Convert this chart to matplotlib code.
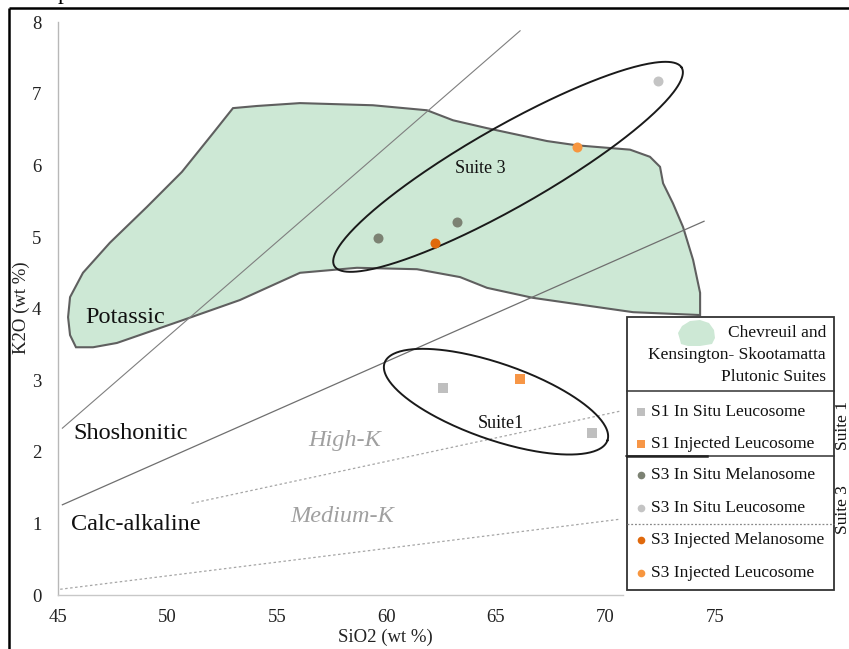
import numpy as np
import matplotlib
matplotlib.use("Agg")
import matplotlib.pyplot as plt
from matplotlib.patches import Rectangle, Polygon

plt.rcParams['font.family'] = ['Liberation Serif', 'DejaVu Serif']

# ---------------- data ----------------
x_ticks = [45, 50, 55, 60, 65, 70, 75]
y_ticks = [0, 1, 2, 3, 4, 5, 6, 7, 8]

# field of Chevreuil and Kensington-Skootamatta plutonic suites
field_sio2 = [45.82, 46.60, 47.69, 50.71, 53.31, 56.05, 58.65, 61.39, 63.36, 64.59,
              66.69, 68.97, 71.26, 74.32, 74.32, 74.00, 73.54, 73.08, 72.63, 72.49,
              72.03, 71.12, 68.70, 67.33, 64.59, 63.04, 61.85, 59.38, 56.05, 54.09,
              52.99, 52.08, 50.66, 49.06, 47.37, 46.14, 45.55, 45.46, 45.55]
field_k2o = [3.46, 3.46, 3.52, 3.84, 4.12, 4.50, 4.57, 4.55, 4.44, 4.29,
             4.15, 4.05, 3.95, 3.91, 4.22, 4.68, 5.14, 5.47, 5.75, 5.98,
             6.12, 6.22, 6.28, 6.34, 6.52, 6.63, 6.77, 6.84, 6.87, 6.83,
             6.80, 6.45, 5.91, 5.42, 4.92, 4.50, 4.16, 3.88, 3.63]

# series
s1_insitu_leuco_x = [62.6, 69.4]
s1_insitu_leuco_y = [2.89, 2.26]
s1_inj_leuco_x = [66.1]
s1_inj_leuco_y = [3.02]
s3_insitu_mela_x = [59.6, 63.2]
s3_insitu_mela_y = [4.99, 5.21]
s3_insitu_leuco_x = [72.4]
s3_insitu_leuco_y = [7.18]
s3_inj_mela_x = [62.2]
s3_inj_mela_y = [4.92]
s3_inj_leuco_x = [68.7]
s3_inj_leuco_y = [6.26]

# boundary lines
shosh_potassic_x = [45.2, 66.1]
shosh_potassic_y = [2.33, 7.88]
calc_shosh_x = [45.2, 74.5]
calc_shosh_y = [1.26, 5.22]
highk_x = [51.1, 70.7]
highk_y = [1.28, 2.57]
mediumk_x = [45.1, 70.7]
mediumk_y = [0.08, 1.06]

# ---------------- figure ----------------
W, H = 849, 649
fig = plt.figure(figsize=(W / 100, H / 100), dpi=100)
PX_X = 21.9   # px per wt% SiO2
PX_Y = 71.6   # px per wt% K2O
ax = fig.add_axes([58 / W, 54 / H, 35 * PX_X / W, 8 * PX_Y / H])
ax.set_xlim(45, 80)
ax.set_ylim(0, 8)
for s in ax.spines.values():
    s.set_visible(False)
ax.set_xticks(x_ticks)
ax.set_yticks(y_ticks)
ax.tick_params(length=0, labelsize=13.5, colors='#222222')
ax.tick_params(axis='x', pad=10)
ax.tick_params(axis='y', pad=12)

# axis lines
ax.plot([45, 45], [0, 8], color='#b8b8b8', lw=1.0, zorder=1, clip_on=False)
ax.plot([45, 70.8], [0, 0], color='#c8c8c8', lw=1.0, zorder=1, clip_on=False)

# field
ax.fill(field_sio2, field_k2o, facecolor='#cde8d5', edgecolor='#5f5f5f', lw=1.5, zorder=2)

# boundaries
ax.plot(shosh_potassic_x, shosh_potassic_y, color='#7f7f7f', lw=0.8, zorder=3)
ax.plot(calc_shosh_x, calc_shosh_y, color='#6f6f6f', lw=0.9, zorder=3)
ax.plot(highk_x, highk_y, color='#a6a6a6', lw=0.9, ls=(0, (2, 2)), zorder=3)
ax.plot(mediumk_x, mediumk_y, color='#a6a6a6', lw=0.9, ls=(0, (2, 2)), zorder=3)


def ellipse(cx, cy, a_px, b_px, ang_deg):
    t = np.linspace(0, 2 * np.pi, 300)
    th = np.radians(ang_deg)
    u = a_px * np.cos(t)
    v = b_px * np.sin(t)
    dx = u * np.cos(th) - v * np.sin(th)
    dy = u * np.sin(th) + v * np.cos(th)
    return cx + dx / PX_X, cy + dy / PX_Y


ex, ey = ellipse(65.55, 5.98, 200, 40, 29.7)
ax.plot(ex, ey, color='#1a1a1a', lw=1.4, zorder=4)
ex, ey = ellipse(65.0, 2.70, 118, 38, -19.2)
ax.plot(ex, ey, color='#1a1a1a', lw=1.4, zorder=4)

# points
ms = 7.2
ax.plot(s1_insitu_leuco_x, s1_insitu_leuco_y, 's', color='#bfbfbf', ms=ms, mew=0, zorder=5)
ax.plot(s1_inj_leuco_x, s1_inj_leuco_y, 's', color='#f79646', ms=ms, mew=0, zorder=5)
ax.plot(s3_insitu_mela_x, s3_insitu_mela_y, 'o', color='#7c8273', ms=ms, mew=0, zorder=5)
ax.plot(s3_insitu_leuco_x, s3_insitu_leuco_y, 'o', color='#c4c4c4', ms=ms, mew=0, zorder=5)
ax.plot(s3_inj_mela_x, s3_inj_mela_y, 'o', color='#e0690c', ms=ms, mew=0, zorder=5)
ax.plot(s3_inj_leuco_x, s3_inj_leuco_y, 'o', color='#f7963f', ms=ms, mew=0, zorder=5)

# region labels
ax.text(46.23, 3.88, 'Potassic', fontsize=17.5, ha='left', va='center', color='#111111', zorder=6)
ax.text(45.68, 2.26, 'Shoshonitic', fontsize=17.5, ha='left', va='center', color='#111111', zorder=6)
ax.text(45.60, 0.99, 'Calc-alkaline', fontsize=17.5, ha='left', va='center', color='#111111', zorder=6)
ax.text(58.1, 2.16, 'High-K', fontsize=17.5, style='italic', ha='center', va='center', color='#a0a0a0', zorder=6)
ax.text(57.97, 1.10, 'Medium-K', fontsize=17.5, style='italic', ha='center', va='center', color='#a0a0a0', zorder=6)
ax.text(64.3, 5.96, 'Suite 3', fontsize=13, ha='center', va='center', color='#111111', zorder=6)
ax.text(65.2, 2.40, 'Suite1', fontsize=13, ha='center', va='center', color='#111111', zorder=6)

# axis titles
fig.text(385 / W, 1 - 637 / H, 'SiO2 (wt %)', fontsize=13.5, ha='center', va='center', color='#222222')
fig.text(21 / W, 1 - 308 / H, 'K2O (wt %)', fontsize=13.5, ha='center', va='center', rotation=90, color='#222222')

# ---------------- overlay (pixel coordinates) ----------------
ov = fig.add_axes([0, 0, 1, 1])
ov.set_xlim(0, W)
ov.set_ylim(H, 0)
ov.axis('off')
ov.patch.set_alpha(0)

# outer frame
ov.plot([9, W], [8, 8], color='black', lw=1.8, solid_capstyle='butt')
ov.plot([9, 9], [8, H], color='black', lw=1.8, solid_capstyle='butt')
ov.text(58, -1, 'p', fontsize=17, ha='left', va='baseline', color='black')

# legend box
L, R, T, B = 627, 834, 317, 590
ov.add_patch(Rectangle((L, T), R - L, B - T, facecolor='white', edgecolor='#333333', lw=1.3, zorder=3))
ov.plot([L, R], [391, 391], color='#333333', lw=1.1, zorder=4)
ov.plot([L - 1, R], [456, 456], color='#333333', lw=1.1, zorder=4)
ov.plot([L, 707], [456, 456], color='#222222', lw=1.8, zorder=4)
ov.plot([L, R], [524, 524], color='#888888', lw=0.9, ls=(0, (1.5, 1.5)), zorder=4)

# legend field icon
blob = [(680, 340), (678, 333), (682, 326), (690, 321), (700, 320), (709, 323),
        (714, 330), (715, 338), (712, 344), (700, 346), (688, 346), (681, 344)]
ov.add_patch(Polygon(blob, closed=True, facecolor='#cde8d5', edgecolor='none', zorder=5))
fs = 12.5
ov.text(826, 333, 'Chevreuil and', fontsize=fs, ha='right', va='center', zorder=5, color='#111111')
ov.text(826, 355, 'Kensington- Skootamatta', fontsize=fs, ha='right', va='center', zorder=5, color='#111111')
ov.text(826, 377, 'Plutonic Suites', fontsize=fs, ha='right', va='center', zorder=5, color='#111111')

entries = [
    ('S1 In Situ Leucosome', 's', '#bfbfbf', 412),
    ('S1 Injected Leucosome', 's', '#f79646', 444),
    ('S3 In Situ Melanosome', 'o', '#7c8273', 475),
    ('S3 In Situ Leucosome', 'o', '#c4c4c4', 508),
    ('S3 Injected Melanosome', 'o', '#e0690c', 540),
    ('S3 Injected Leucosome', 'o', '#f7963f', 573),
]
for label, mk, col, yy in entries:
    ov.plot([641], [yy], mk, color=col, ms=5.5, mew=0, zorder=5)
    ov.text(651, yy, label, fontsize=fs, ha='left', va='center', zorder=5, color='#111111')

ov.text(843, 425, 'Suite 1', fontsize=fs, rotation=90, ha='center', va='center', color='#111111')
ov.text(843, 510, 'Suite 3', fontsize=fs, rotation=90, ha='center', va='center', color='#111111')

fig.savefig('out.png', dpi=100)
